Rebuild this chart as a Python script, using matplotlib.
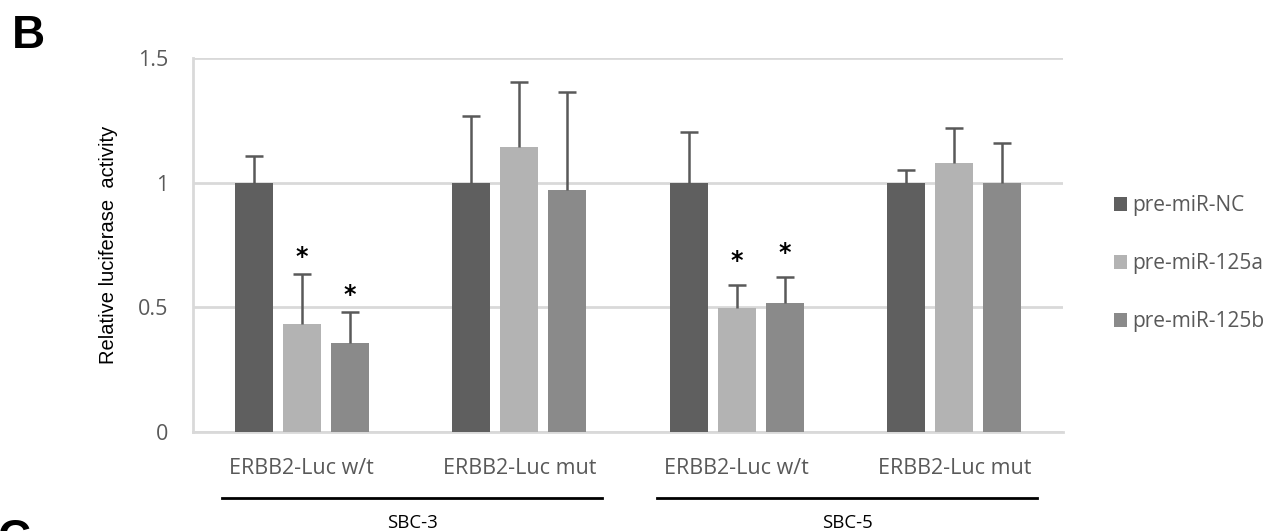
import numpy as np
import matplotlib.pyplot as plt
from matplotlib.patches import Patch

# Luciferase reporter data (relative to pre-miR-NC)
constructs = ["ERBB2-Luc w/t", "ERBB2-Luc mut", "ERBB2-Luc w/t", "ERBB2-Luc mut"]
cell_lines = ["SBC-3", "SBC-5"]
series = ["pre-miR-NC", "pre-miR-125a", "pre-miR-125b"]

nc_mean = [1.0, 1.0, 1.0, 1.0]
mir125a_mean = [0.434, 1.142, 0.497, 1.078]
mir125b_mean = [0.358, 0.971, 0.518, 1.0]

nc_err = [0.107, 0.267, 0.202, 0.053]
mir125a_err = [0.200, 0.262, 0.093, 0.144]
mir125b_err = [0.124, 0.392, 0.105, 0.159]

# significance marks: (construct index, series index, gap above error bar)
signif = [(0, 1, 0.068), (0, 2, 0.068), (2, 1, 0.095), (2, 2, 0.095)]

colors = ["#5f5f5f", "#b3b3b3", "#8a8a8a"]
tick_grey = "#595959"
grid_grey = "#d9d9d9"
label_font = ["Open Sans", "DejaVu Sans"]

means = [nc_mean, mir125a_mean, mir125b_mean]
errs = [nc_err, mir125a_err, mir125b_err]

fig = plt.figure(figsize=(12.74, 5.31), dpi=100)
ax = fig.add_axes([193 / 1274, 1 - 431.7 / 531, 870 / 1274, 373.4 / 531])

x = np.arange(len(constructs))
width = 0.175
step = 0.22
for i in range(3):
    pos = x + (i - 1) * step
    ax.bar(pos, means[i], width, color=colors[i], zorder=3)
    eb = ax.errorbar(pos, means[i], yerr=[np.zeros(len(x)), errs[i]], fmt="none",
                     ecolor=tick_grey, elinewidth=1.8, capsize=6.5, capthick=1.8,
                     zorder=4)
    # only the upper whisker gets a cap
    eb[1][0].set_visible(False)

for ci, si, gap in signif:
    top = means[si][ci] + errs[si][ci]
    ax.text(x[ci] + (si - 1) * step, top + gap, "*", ha="center", va="center",
            fontsize=17, color="black", fontweight="bold")

ax.set_xlim(-0.5, len(constructs) - 0.5)
ax.set_ylim(0, 1.5)
ax.set_yticks([0, 0.5, 1, 1.5])
ax.set_yticklabels(["0", "0.5", "1", "1.5"])
ax.yaxis.grid(True, color=grid_grey, linewidth=2, zorder=0)
ax.set_axisbelow(True)
for side in ["top", "right"]:
    ax.spines[side].set_visible(False)
for side in ["left", "bottom"]:
    ax.spines[side].set_color(grid_grey)
    ax.spines[side].set_linewidth(2)
ax.tick_params(axis="both", length=0, colors=tick_grey, labelsize=15.5)
ax.tick_params(axis="y", pad=18)
ax.tick_params(axis="x", pad=19)
ax.set_xticks(x)
ax.set_xticklabels(constructs, family=label_font, color=tick_grey)
for lbl in ax.get_yticklabels():
    lbl.set_family(label_font)

ax.set_ylabel("Relative luciferase  activity", fontsize=14.5, family="Liberation Sans",
              labelpad=14)

# cell line brackets below the construct labels
for k, name in enumerate(cell_lines):
    x0 = x[2 * k] - 0.365
    x1 = x[2 * k + 1] + 0.38
    ax.plot([x0, x1], [-0.266, -0.266], color="black", linewidth=2,
            clip_on=False)
    ax.text((x0 + x1) / 2, -0.367, name, ha="center", va="center",
            fontsize=13.4, family=label_font, color="black")

handles = [Patch(facecolor=c, edgecolor="none") for c in colors]
ax.legend(handles, series, loc="center left", bbox_to_anchor=(1.037, 0.45),
          frameon=False, handlelength=0.65, handleheight=0.65, handletextpad=0.25,
          labelspacing=1.78, prop={"family": label_font, "size": 15},
          labelcolor=tick_grey)

fig.text(12 / 1274, 1 - 14 / 531, "B", fontsize=33, fontweight="bold",
         family="Liberation Sans", va="top", ha="left")
fig.text(-3 / 1274, 1 - 518 / 531, "C", fontsize=33, fontweight="bold",
         family="Liberation Sans", va="top", ha="left")

fig.savefig("out.png", dpi=100)
